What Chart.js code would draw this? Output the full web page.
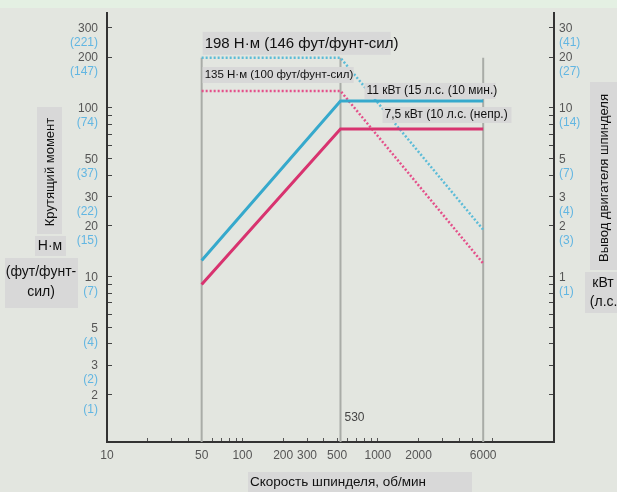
<!DOCTYPE html>
<html><head><meta charset="utf-8">
<script src="https://cdn.jsdelivr.net/npm/chart.js@4/dist/chart.umd.min.js"></script>
<style>html,body{margin:0;padding:0;background:#e3e6e0;overflow:hidden}#wrap{width:617px;height:492px}</style>
</head><body><div id="wrap"><canvas id="c" width="617" height="492"></canvas></div>
<script>
const speedRpm = [50, 530, 6000];
const power11kW = [1.25, 11, 11];
const power7kW = [0.9, 7.5, 7.5];
const torque198 = [198, 198, 19];
const torque135 = [126, 126, 12];
const limitSpeeds = [50, 530, 6000];
const limitTorque = 198;
const xLabelTicks = [10, 50, 100, 200, 300, 500, 1000, 2000, 6000];
const xMinorTicks = [20, 30, 40, 60, 70, 80, 90, 400, 600, 700, 800, 900, 3000, 4000, 5000, 7000];
const torqueLabelTicks = [2, 3, 5, 10, 20, 30, 50, 100, 200, 300];
const torqueFtLbf = ['(1)', '(2)', '(4)', '(7)', '(15)', '(22)', '(37)', '(74)', '(147)', '(221)'];
const torqueMinorTicks = [4, 6, 7, 8, 9, 40, 60, 70, 80, 90];
const powerLabelTicks = [1, 2, 3, 5, 10, 20, 30];
const powerHp = ['(1)', '(3)', '(4)', '(7)', '(14)', '(27)', '(41)'];
const powerMinorTicks = [0.2, 0.3, 0.4, 0.5, 0.6, 0.7, 0.8, 0.9, 4, 6, 7, 8, 9];

const T_MIN = 1.05, T_MAX = 365;
const FONT = '"Liberation Sans", Arial, sans-serif';
const sortNum = a => a.slice().sort((p, q) => p - q);
const pts = (xs, ys) => xs.map((x, i) => ({x: x, y: ys[i]}));

const datasets = [
  {data: pts(speedRpm, power11kW), yAxisID: 'yKw', borderColor: '#36a9cc', borderWidth: 3},
  {data: pts(speedRpm, power7kW), yAxisID: 'yKw', borderColor: '#d8336f', borderWidth: 3},
  {data: pts(speedRpm, torque198), yAxisID: 'y', borderColor: '#5cbcd8', borderWidth: 2.5, borderDash: [2, 2]},
  {data: pts(speedRpm, torque135), yAxisID: 'y', borderColor: '#e4508a', borderWidth: 2.5, borderDash: [2, 2]}
];
limitSpeeds.forEach(s => datasets.push({
  data: [{x: s, y: T_MIN}, {x: s, y: limitTorque}], yAxisID: 'y', borderColor: '#a9aca7', borderWidth: 2
}));

function box(ctx, x, y, w, h) { ctx.fillStyle = '#d8d8d8'; ctx.fillRect(x, y, w, h); }

const deco = {
  id: 'deco',
  afterLayout(chart) {
    // secondary (blue) label axes share the area of the main axes on each side
    const a = chart.chartArea, ft = chart.scales.yFt, hp = chart.scales.yHp;
    ft.left = 0; ft.right = a.left; ft.width = a.left;
    hp.left = a.right; hp.right = chart.width; hp.width = chart.width - a.right;
  },
  beforeDraw(chart) {
    const ctx = chart.ctx;
    ctx.save();
    ctx.fillStyle = '#e3e6e0'; ctx.fillRect(0, 0, chart.width, chart.height);
    ctx.fillStyle = '#e4f0e3'; ctx.fillRect(0, 0, chart.width, 8);
    ctx.restore();
  },
  afterDraw(chart) {
    const ctx = chart.ctx, xs = chart.scales.x, ys = chart.scales.y, ks = chart.scales.yKw;
    ctx.save();
    ctx.textBaseline = 'middle';
    const x50 = xs.getPixelForValue(50), x530 = xs.getPixelForValue(530);
    let y = ys.getPixelForValue(198);
    box(ctx, x50 + 1, y - 26, 188, 23);
    ctx.fillStyle = '#111'; ctx.font = '15px ' + FONT; ctx.textAlign = 'left';
    ctx.fillText('198 Н·м (146 фут/фунт-сил)', x50 + 3, y - 14);
    y = ys.getPixelForValue(126);
    box(ctx, x50 + 1, y - 24, 151, 16);
    ctx.fillStyle = '#111'; ctx.font = '11.5px ' + FONT;
    ctx.fillText('135 Н·м (100 фут/фунт-сил)', x50 + 3, y - 16);
    y = ks.getPixelForValue(11);
    box(ctx, x530 + 24, y - 18, 131, 16);
    ctx.fillStyle = '#111'; ctx.font = '12px ' + FONT;
    ctx.fillText('11 кВт (15 л.с. (10 мин.)', x530 + 26, y - 10);
    y = ks.getPixelForValue(7.5);
    box(ctx, x530 + 42, y - 22, 129, 16);
    ctx.fillStyle = '#111';
    ctx.fillText('7,5 кВт (10 л.с. (непр.)', x530 + 44, y - 14);
    ctx.fillStyle = '#444'; ctx.font = '12px ' + FONT;
    ctx.fillText('530', x530 + 4, 418);
    // axis titles
    ctx.font = '13px ' + FONT; ctx.textAlign = 'center';
    box(ctx, 37, 107, 25, 127);
    ctx.save(); ctx.translate(50, 172); ctx.rotate(-Math.PI / 2);
    ctx.fillStyle = '#111'; ctx.fillText('Крутящий момент', 0, 0); ctx.restore();
    ctx.font = '14px ' + FONT;
    box(ctx, 35, 236, 31, 20);
    ctx.fillStyle = '#111'; ctx.fillText('Н·м', 50, 246);
    box(ctx, 5, 258, 73, 50);
    ctx.fillStyle = '#111'; ctx.fillText('(фут/фунт-', 41, 272); ctx.fillText('сил)', 41, 292);
    ctx.font = '13px ' + FONT;
    box(ctx, 590, 82, 27, 188);
    ctx.save(); ctx.translate(604, 178); ctx.rotate(-Math.PI / 2);
    ctx.fillStyle = '#111'; ctx.fillText('Вывод двигателя шпинделя', 0, 0); ctx.restore();
    ctx.font = '14px ' + FONT;
    box(ctx, 585, 272, 32, 41);
    ctx.fillStyle = '#111'; ctx.fillText('кВт', 603, 283); ctx.fillText('(л.с.)', 606, 302);
    box(ctx, 248, 472, 224, 20);
    ctx.fillStyle = '#111'; ctx.textAlign = 'left'; ctx.font = '13.5px ' + FONT;
    ctx.fillText('Скорость шпинделя, об/мин', 250, 482);
    ctx.restore();
  }
};

const tickFont = {family: FONT, size: 12};
const vFit = w => s => { s.width = w; s.paddingTop = 0; s.paddingBottom = 0; };
new Chart(document.getElementById('c'), {
  type: 'line',
  data: {datasets: datasets},
  plugins: [deco],
  options: {
    responsive: false, animation: false, devicePixelRatio: 1,
    layout: {padding: {top: 13, left: 0, right: 0, bottom: 0}},
    plugins: {legend: {display: false}, tooltip: {enabled: false}},
    elements: {point: {radius: 0}, line: {tension: 0, fill: false}},
    scales: {
      x: {
        type: 'logarithmic', position: 'bottom', min: 10, max: 20000,
        afterFit: s => { s.height = 50; s.paddingLeft = 0; s.paddingRight = 0; },
        afterBuildTicks: s => { s.ticks = sortNum(xLabelTicks.concat(xMinorTicks)).map(v => ({value: v})); },
        ticks: {autoSkip: false, maxRotation: 0, padding: 10, color: '#555', font: tickFont,
          callback: v => xLabelTicks.includes(v) ? String(v) : ''},
        grid: {drawOnChartArea: false, tickLength: -4, color: '#555'},
        border: {color: '#333', width: 2}
      },
      y: {
        type: 'logarithmic', position: 'left', weight: 1, min: T_MIN, max: T_MAX,
        afterFit: vFit(107),
        afterBuildTicks: s => { s.ticks = sortNum(torqueLabelTicks.concat(torqueMinorTicks)).map(v => ({value: v})); },
        ticks: {autoSkip: false, padding: 14, labelOffset: 1, color: '#555', font: tickFont,
          callback: v => torqueLabelTicks.includes(v) ? String(v) : ''},
        grid: {drawOnChartArea: false, tickLength: -5, color: '#444'},
        border: {color: '#333', width: 2}
      },
      yFt: {
        type: 'logarithmic', position: 'left', display: true, weight: 0, min: T_MIN, max: T_MAX,
        afterFit: vFit(0),
        afterBuildTicks: s => { s.ticks = torqueLabelTicks.map(v => ({value: v})); },
        ticks: {autoSkip: false, padding: 9, labelOffset: 15, color: '#62b6e2', font: tickFont,
          callback: v => { const i = torqueLabelTicks.indexOf(v); return i >= 0 ? torqueFtLbf[i] : ''; }},
        grid: {display: false, drawTicks: false},
        border: {display: false}
      },
      yKw: {
        type: 'logarithmic', position: 'right', weight: 1, min: T_MIN / 10, max: T_MAX / 10,
        afterFit: vFit(63),
        afterBuildTicks: s => { s.ticks = sortNum(powerLabelTicks.concat(powerMinorTicks)).map(v => ({value: v})); },
        ticks: {autoSkip: false, padding: 10, labelOffset: 1, color: '#555', font: tickFont,
          callback: v => powerLabelTicks.includes(v) ? String(v) : ''},
        grid: {drawOnChartArea: false, tickLength: -5, color: '#444'},
        border: {color: '#333', width: 2}
      },
      yHp: {
        type: 'logarithmic', position: 'right', display: true, weight: 0, min: T_MIN / 10, max: T_MAX / 10,
        afterFit: vFit(0),
        afterBuildTicks: s => { s.ticks = powerLabelTicks.map(v => ({value: v})); },
        ticks: {autoSkip: false, padding: 5, labelOffset: 15, color: '#62b6e2', font: tickFont,
          callback: v => { const i = powerLabelTicks.indexOf(v); return i >= 0 ? powerHp[i] : ''; }},
        grid: {display: false, drawTicks: false},
        border: {display: false}
      }
    }
  }
});
</script></body></html>
